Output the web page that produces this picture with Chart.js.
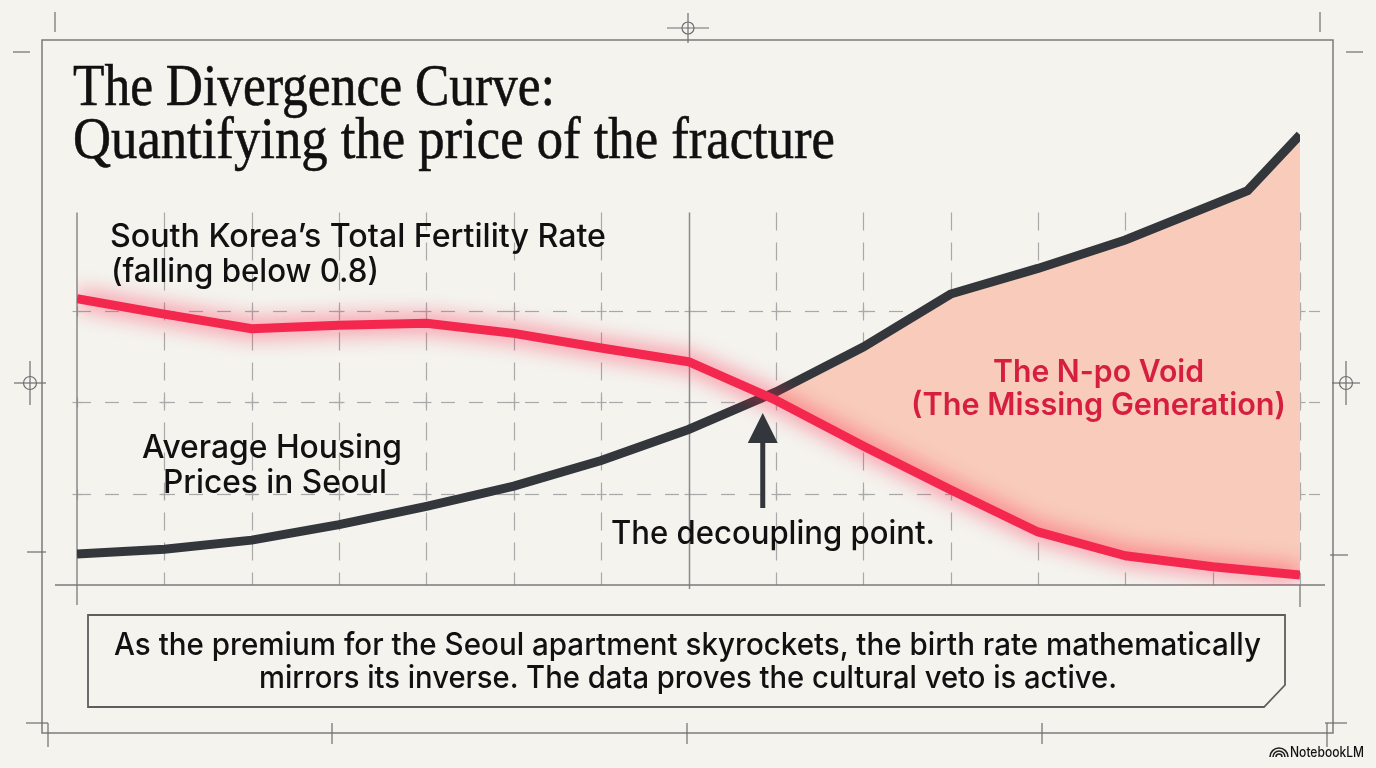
<!DOCTYPE html>
<html>
<head>
<meta charset="utf-8">
<script src="https://cdn.jsdelivr.net/npm/chart.js@4.4.1/dist/chart.umd.min.js"></script>
<style>
  html, body { margin: 0; padding: 0; background: #f4f3ee; }
  #wrap { position: relative; width: 1376px; height: 768px; overflow: hidden; }
  canvas { position: absolute; left: 0; top: 0; }
  .t { position: absolute; white-space: nowrap; line-height: 1; transform-origin: left top; }
  .serif { font-family: "Liberation Serif", serif; color: #111; -webkit-text-stroke: 0.6px #111; }
  .sans { font-family: Inter, "Noto Sans", sans-serif; color: #111; font-weight: 500; }
</style>
</head>
<body>
<div id="wrap">
  <canvas id="myChart" width="1376" height="768"></canvas>

  <div class="t serif" data-w="482" style="left:73px; top:55px; font-size:60px;">The Divergence Curve:</div>
  <div class="t serif" data-w="762" style="left:73px; top:108px; font-size:60px;">Quantifying the price of the fracture</div>

  <div class="t sans" data-w="496" style="left:110px; top:220px; font-size:32px;">South Korea’s Total Fertility Rate</div>
  <div class="t sans" data-w="268" style="left:111px; top:255px; font-size:32px;">(falling below 0.8)</div>

  <div class="t sans" data-w="260" style="left:142px; top:431px; font-size:32px;">Average Housing</div>
  <div class="t sans" data-w="224" style="left:163px; top:466px; font-size:32px;">Prices in Seoul</div>

  <div class="t sans" data-w="324" style="left:611px; top:517px; font-size:32px;">The decoupling point.</div>

  <div class="t sans" data-w="211" style="left:993px; top:355px; font-size:31px; font-weight:600; color:#d61f40;">The N-po Void</div>
  <div class="t sans" data-w="375" style="left:911px; top:388px; font-size:31px; font-weight:600; color:#d61f40;">(The Missing Generation)</div>

  <div class="t sans" data-w="1147" style="left:114px; top:628px; font-size:31px;">As the premium for the Seoul apartment skyrockets, the birth rate mathematically</div>
  <div class="t sans" data-w="858" style="left:259px; top:661px; font-size:31px;">mirrors its inverse. The data proves the cultural veto is active.</div>

  <div class="t sans" data-w="74" style="left:1290px; top:745px; font-size:14px;">NotebookLM</div>
</div>

<script>
// Werte (0 = x-Achse, 1 Einheit = ein Rasterfeld)
const fertilityX = [0, 1, 2, 3, 4, 5, 6, 7, 8, 9, 10, 11, 12, 13, 14];
const fertility = [3.13, 2.96, 2.80, 2.84, 2.86, 2.75, 2.59, 2.44, 2.02, 1.52, 1.04, 0.58, 0.32, 0.20, 0.11];

const housingX = [0, 1, 2, 3, 4, 5, 6, 7, 8, 9, 10, 11, 12, 13.4, 14];
const housing = [0.34, 0.39, 0.49, 0.66, 0.86, 1.08, 1.36, 1.70, 2.11, 2.60, 3.18, 3.46, 3.77, 4.31, 4.92];

// Raster
const gridX = [0, 1, 2, 3, 4, 5, 6, 7, 8, 9, 10, 11, 12, 13, 14];
const gridY = [1, 2, 3];
const gridTop = 4.07;
const decouplingX = 7.85;

const BG = '#f4f3ee';

// Text auf Zielbreite bringen
document.querySelectorAll('.t').forEach(el => {
  const w = el.getBoundingClientRect().width;
  el.style.transform = 'scaleX(' + (parseFloat(el.dataset.w) / w) + ')';
});

function line(ctx, x1, y1, x2, y2) {
  ctx.beginPath(); ctx.moveTo(x1, y1); ctx.lineTo(x2, y2); ctx.stroke();
}
function crosshair(ctx, x, y, r, lx, ly) {
  ctx.beginPath(); ctx.arc(x, y, r, 0, Math.PI * 2); ctx.stroke();
  line(ctx, x - lx, y, x + lx, y);
  line(ctx, x, y - ly, x, y + ly);
}

const paperPlugin = {
  id: 'paper',
  beforeDraw(chart) {
    const ctx = chart.ctx;
    ctx.save();
    ctx.fillStyle = BG;
    ctx.fillRect(0, 0, chart.width, chart.height);

    // Rahmen + Passermarken
    ctx.strokeStyle = '#7b7b7b';
    ctx.lineWidth = 1.5;
    ctx.strokeRect(42, 40, 1291, 693);
    ctx.lineWidth = 1.2;
    ctx.strokeStyle = '#6e6e6e';
    line(ctx, 55, 12, 55, 32);
    line(ctx, 1320, 12, 1320, 32);
    line(ctx, 13, 52, 30, 52);
    line(ctx, 1346, 52, 1363, 52);
    crosshair(ctx, 688, 28, 6, 21, 15);
    crosshair(ctx, 30, 383, 6.5, 16, 22);
    crosshair(ctx, 1346, 383, 6.5, 14, 22);
    line(ctx, 27, 552, 46, 552);
    line(ctx, 1330, 555, 1348, 555);
    line(ctx, 26, 723, 48, 723);
    line(ctx, 1325, 723, 1347, 723);
    line(ctx, 48, 723, 48, 747);
    line(ctx, 1327, 723, 1327, 747);
    [332, 687, 1042].forEach(x => line(ctx, x, 723, x, 744));

    // Kasten unten mit abgeschnittener Ecke
    ctx.strokeStyle = '#5e5e5e';
    ctx.lineWidth = 1.8;
    ctx.beginPath();
    ctx.moveTo(88, 615); ctx.lineTo(1285, 615); ctx.lineTo(1285, 685);
    ctx.lineTo(1264, 707); ctx.lineTo(88, 707); ctx.closePath();
    ctx.stroke();

    // NotebookLM Logo
    ctx.strokeStyle = '#222';
    ctx.lineWidth = 1.6;
    [3, 6, 9].forEach(r => {
      ctx.beginPath(); ctx.arc(1279, 757, r, Math.PI, 2 * Math.PI); ctx.stroke();
    });
    ctx.restore();
  },
  beforeDatasetsDraw(chart) {
    const ctx = chart.ctx;
    const xs = chart.scales.x, ys = chart.scales.y;
    const top = ys.getPixelForValue(gridTop);
    const bottom = ys.getPixelForValue(0);
    const left = xs.getPixelForValue(0), right = xs.getPixelForValue(14);
    ctx.save();
    ctx.strokeStyle = '#a9a9a9';
    ctx.lineWidth = 1.2;
    ctx.setLineDash([14, 14]);
    gridY.forEach(v => {
      const y = Math.round(ys.getPixelForValue(v)) + 0.5;
      line(ctx, left, y, right + 20, y);
    });
    ctx.setLineDash([18, 12]);
    gridX.forEach((v, i) => {
      if (i === 0 || i === 7) return;
      const x = Math.round(xs.getPixelForValue(v)) + 0.5;
      line(ctx, x, top, x, bottom);
    });
    ctx.setLineDash([]);
    // kleine Kreuze an den Schnittpunkten
    gridY.forEach(v => {
      const y = Math.round(ys.getPixelForValue(v)) + 0.5;
      gridX.forEach(g => {
        const x = Math.round(xs.getPixelForValue(g)) + 0.5;
        line(ctx, x - 5, y, x + 5, y);
        line(ctx, x, y - 5, x, y + 5);
      });
    });
    // Achsen
    ctx.strokeStyle = '#8a8a8a';
    ctx.lineWidth = 1.5;
    const x7 = Math.round(xs.getPixelForValue(7)) + 0.5;
    line(ctx, x7, top, x7, bottom + 4);
    line(ctx, left, top, left, bottom + 20);
    line(ctx, right, bottom, right, bottom + 22);
    ctx.strokeStyle = '#7a7a7a';
    line(ctx, 55, bottom, 1325, bottom);
    ctx.restore();
  },
  beforeDatasetDraw(chart, args) {
    if (args.index === 0) {
      const ctx = chart.ctx;
      ctx.save();
      ctx.shadowColor = 'rgba(255, 35, 75, 0.9)';
      ctx.shadowBlur = 22;
    }
  },
  afterDatasetDraw(chart, args) {
    if (args.index === 0) chart.ctx.restore();
  },
  afterDatasetsDraw(chart) {
    // Pfeil zum Kreuzungspunkt
    const ctx = chart.ctx;
    const x = chart.scales.x.getPixelForValue(decouplingX);
    ctx.save();
    ctx.fillStyle = '#33373c';
    ctx.fillRect(x - 2.5, 438, 5, 70);
    ctx.beginPath();
    ctx.moveTo(x, 413); ctx.lineTo(x + 15, 443); ctx.lineTo(x - 15, 443);
    ctx.closePath(); ctx.fill();
    ctx.restore();
  }
};

const ctx = document.getElementById('myChart').getContext('2d');
const myChart = new Chart(ctx, {
  type: 'line',
  data: {
    datasets: [{
      label: 'South Korea’s Total Fertility Rate',
      data: fertilityX.map((x, i) => ({ x: x, y: fertility[i] })),
      borderColor: '#f4284f',
      borderWidth: 9,
      borderJoinStyle: 'round',
      pointRadius: 0,
      tension: 0,
      fill: false
    }, {
      label: 'Average Housing Prices in Seoul',
      data: housingX.map((x, i) => ({ x: x, y: housing[i] })),
      borderColor: '#33373c',
      borderWidth: 9,
      borderJoinStyle: 'miter',
      pointRadius: 0,
      tension: 0,
      fill: { target: 0, above: '#f8cbba', below: 'rgba(0,0,0,0)' }
    }]
  },
  options: {
    responsive: false,
    animation: false,
    layout: { padding: { left: 77, right: 76, top: 127.5, bottom: 183 } },
    plugins: {
      legend: { display: false },
      tooltip: { enabled: false }
    },
    scales: {
      x: { type: 'linear', min: 0, max: 14, display: false },
      y: { min: 0, max: 5, display: false }
    }
  },
  plugins: [paperPlugin]
});
</script>
</body>
</html>
